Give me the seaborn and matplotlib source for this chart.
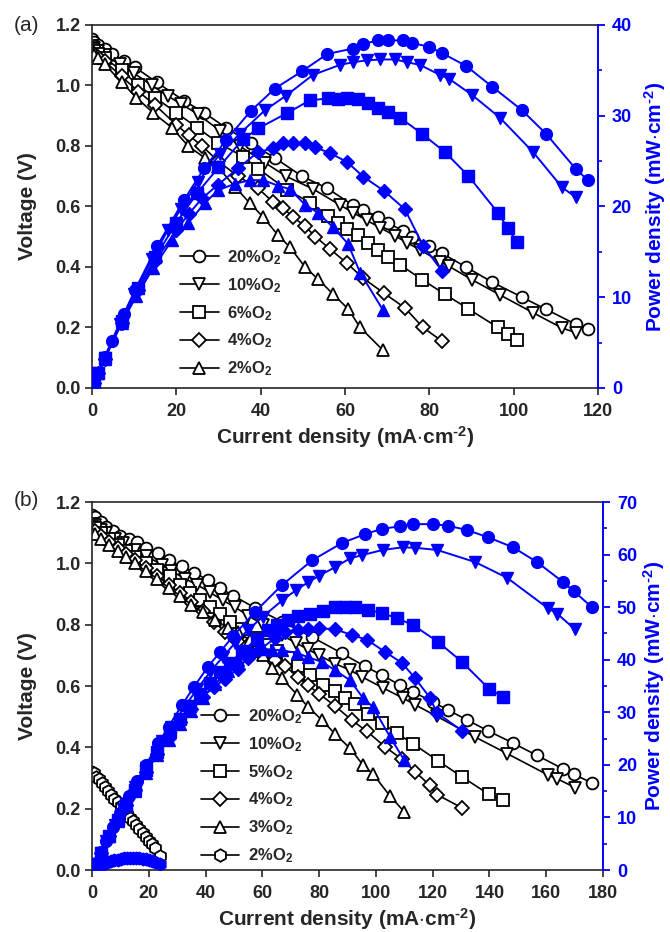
import matplotlib
matplotlib.use('Agg')
import matplotlib.pyplot as plt
import seaborn as sns
from matplotlib.lines import Line2D
from matplotlib.ticker import MultipleLocator

# ---- panel (a): current (mA/cm2), voltage (V), power (mW/cm2)
a20_i = [0, 0.5, 1.5, 3.0, 4.7, 7.5, 10.2, 15.4, 21.8, 26.6, 31.8, 37.6, 43.4, 49.8, 55.8, 61.8, 64.3, 67.8, 70.3, 73.7, 76.0, 80.0, 83.0, 88.7, 94.9, 102.0, 107.7, 114.8, 117.6]
a20_v = [1.153, 1.145, 1.135, 1.12, 1.105, 1.08, 1.06, 1.01, 0.95, 0.91, 0.86, 0.81, 0.76, 0.70, 0.66, 0.605, 0.59, 0.565, 0.545, 0.52, 0.50, 0.47, 0.445, 0.40, 0.35, 0.30, 0.26, 0.21, 0.195]
a20_p = [0, 0.6, 1.7, 3.4, 5.2, 8.1, 10.8, 15.6, 20.7, 24.2, 27.3, 30.5, 33.0, 34.9, 36.8, 37.4, 37.9, 38.3, 38.3, 38.3, 38.0, 37.6, 36.9, 35.5, 33.2, 30.6, 28.0, 24.1, 22.9]

a10_i = [0, 0.5, 1.5, 3.0, 6.6, 10.0, 14.2, 18.0, 21.0, 25.1, 30.4, 35.0, 41.0, 46.0, 52.4, 58.8, 62.0, 65.2, 68.3, 71.9, 74.7, 77.8, 82.5, 84.6, 90.1, 96.7, 104.6, 111.5, 114.8]
a10_v = [1.13, 1.125, 1.115, 1.10, 1.07, 1.04, 1.0, 0.965, 0.94, 0.905, 0.85, 0.80, 0.745, 0.70, 0.658, 0.605, 0.579, 0.554, 0.53, 0.503, 0.48, 0.457, 0.418, 0.403, 0.358, 0.308, 0.249, 0.198, 0.183]
a10_p = [0, 0.6, 1.7, 3.3, 7.1, 10.4, 14.2, 17.4, 19.7, 22.7, 25.8, 28.0, 30.6, 32.2, 34.5, 35.6, 35.9, 36.1, 36.2, 36.2, 35.9, 35.6, 34.5, 34.1, 32.3, 29.8, 26.0, 22.1, 21.0]

a6_i = [0, 0.5, 1.5, 3.0, 7.0, 11.0, 15.0, 20.0, 25.0, 30.0, 35.8, 39.4, 46.3, 51.7, 56.0, 58.3, 60.5, 63.0, 65.5, 67.8, 70.2, 73.0, 78.3, 83.7, 89.2, 96.3, 98.6, 100.8]
a6_v = [1.12, 1.115, 1.105, 1.09, 1.05, 1.0, 0.96, 0.91, 0.86, 0.81, 0.765, 0.725, 0.655, 0.613, 0.57, 0.545, 0.527, 0.505, 0.48, 0.456, 0.433, 0.408, 0.358, 0.31, 0.262, 0.20, 0.178, 0.16]
a6_p = [0, 0.6, 1.7, 3.3, 7.4, 11.0, 14.4, 18.2, 21.5, 24.3, 27.4, 28.6, 30.3, 31.7, 31.9, 31.8, 31.9, 31.8, 31.4, 30.9, 30.4, 29.8, 28.0, 26.0, 23.4, 19.3, 17.6, 16.1]

a4_i = [0, 0.5, 1.5, 3.0, 7.0, 11.0, 15.0, 20.0, 23.0, 26.1, 29.9, 34.6, 39.4, 42.9, 45.3, 47.7, 50.5, 53.0, 56.4, 60.5, 64.3, 69.3, 74.2, 78.5, 83.0]
a4_v = [1.11, 1.105, 1.095, 1.08, 1.03, 0.98, 0.935, 0.87, 0.835, 0.80, 0.75, 0.70, 0.66, 0.615, 0.595, 0.565, 0.535, 0.50, 0.46, 0.412, 0.363, 0.313, 0.265, 0.20, 0.155]
a4_p = [0, 0.6, 1.6, 3.2, 7.2, 10.8, 14.0, 17.4, 19.2, 20.9, 22.4, 24.2, 26.0, 26.4, 27.0, 27.0, 27.0, 26.5, 25.9, 24.9, 23.3, 21.7, 19.7, 15.7, 12.9]

a2_i = [0, 0.5, 1.5, 3.0, 7.1, 10.5, 14.5, 19.0, 22.8, 26.8, 29.9, 33.9, 37.5, 40.6, 44.1, 47.0, 50.5, 53.6, 57.2, 60.7, 63.6, 69.0]
a2_v = [1.107, 1.10, 1.09, 1.07, 1.01, 0.96, 0.91, 0.86, 0.80, 0.76, 0.73, 0.665, 0.61, 0.565, 0.505, 0.465, 0.40, 0.36, 0.31, 0.262, 0.20, 0.125]
a2_p = [0, 0.6, 1.6, 3.2, 7.2, 10.1, 13.2, 16.3, 18.2, 20.4, 21.8, 22.5, 22.9, 22.9, 22.3, 21.9, 20.2, 19.3, 17.7, 15.9, 12.7, 8.6]

# ---- panel (b)
b20_i = [0, 1.0, 3.0, 5.0, 7.4, 10.0, 13.0, 15.8, 19.0, 23.3, 27.0, 31.7, 36.0, 40.9, 45.0, 49.7, 57.4, 66.9, 77.5, 88.0, 96.2, 102.1, 108.5, 113.0, 120.0, 125.4, 132.0, 139.5, 148.3, 156.7, 165.9, 169.8, 176.1]
b20_v = [1.157, 1.15, 1.135, 1.12, 1.105, 1.09, 1.08, 1.07, 1.05, 1.033, 1.01, 0.99, 0.97, 0.945, 0.92, 0.895, 0.855, 0.81, 0.76, 0.707, 0.664, 0.636, 0.603, 0.582, 0.548, 0.522, 0.49, 0.454, 0.414, 0.374, 0.33, 0.312, 0.284]
b20_p = [0, 1.2, 3.4, 5.6, 8.2, 10.9, 14.0, 16.9, 20.0, 24.1, 27.3, 31.4, 34.9, 38.7, 41.4, 44.5, 49.1, 54.2, 58.9, 62.2, 63.9, 64.9, 65.4, 65.8, 65.8, 65.5, 64.7, 63.3, 61.4, 58.6, 54.8, 53.0, 50.0]

b10_i = [0, 1.0, 3.0, 5.0, 8.0, 11.0, 15.0, 19.0, 24.6, 28.0, 32.8, 37.0, 41.5, 46.0, 50.4, 55.0, 60.2, 67.0, 72.0, 76.0, 80.0, 85.6, 90.9, 95.1, 102.5, 109.5, 113.8, 121.5, 134.9, 146.2, 160.6, 163.8, 170.1]
b10_v = [1.13, 1.125, 1.11, 1.10, 1.08, 1.065, 1.045, 1.025, 0.995, 0.975, 0.95, 0.93, 0.906, 0.88, 0.857, 0.83, 0.80, 0.765, 0.74, 0.72, 0.70, 0.673, 0.652, 0.63, 0.594, 0.561, 0.539, 0.501, 0.434, 0.38, 0.31, 0.298, 0.269]
b10_p = [0, 1.1, 3.3, 5.5, 8.6, 11.7, 15.7, 19.5, 24.5, 27.3, 31.2, 34.4, 37.6, 40.5, 43.2, 45.7, 48.2, 51.3, 53.3, 54.7, 56.0, 57.6, 59.3, 59.9, 60.9, 61.4, 61.3, 60.9, 58.6, 55.6, 49.8, 48.8, 45.8]

b5_i = [0, 1.0, 3.0, 6.0, 9.0, 12.0, 15.0, 19.0, 23.0, 27.5, 31.0, 34.5, 38.0, 41.5, 45.0, 48.6, 53.0, 58.1, 62.0, 65.2, 69.0, 72.6, 76.8, 81.4, 85.6, 89.1, 92.6, 97.2, 102.1, 107.4, 113.1, 121.9, 130.3, 139.8, 144.8]
b5_v = [1.12, 1.115, 1.10, 1.08, 1.06, 1.04, 1.02, 1.0, 0.98, 0.96, 0.93, 0.903, 0.88, 0.858, 0.835, 0.81, 0.785, 0.758, 0.735, 0.715, 0.69, 0.665, 0.635, 0.605, 0.584, 0.561, 0.54, 0.509, 0.479, 0.446, 0.412, 0.356, 0.304, 0.247, 0.227]
b5_p = [0, 1.1, 3.3, 6.5, 9.5, 12.5, 15.3, 19.0, 22.5, 26.4, 28.8, 31.2, 33.4, 35.6, 37.6, 39.4, 41.6, 44.0, 45.6, 46.6, 47.6, 48.3, 48.8, 49.3, 50.0, 50.0, 50.0, 49.5, 48.9, 47.9, 46.6, 43.4, 39.6, 34.5, 32.9]

b4_i = [0, 1.0, 3.0, 6.0, 9.0, 12.0, 15.0, 19.0, 23.0, 27.0, 31.0, 35.0, 39.0, 43.0, 47.0, 51.4, 55.0, 59.0, 64.5, 68.0, 72.6, 76.0, 80.0, 85.6, 91.6, 96.9, 103.2, 109.2, 113.8, 119.0, 121.5, 130.3]
b4_v = [1.11, 1.105, 1.09, 1.07, 1.05, 1.03, 1.01, 0.985, 0.96, 0.93, 0.905, 0.875, 0.845, 0.81, 0.775, 0.745, 0.735, 0.71, 0.684, 0.666, 0.628, 0.603, 0.575, 0.535, 0.488, 0.452, 0.402, 0.361, 0.321, 0.276, 0.246, 0.203]
b4_p = [0, 1.1, 3.3, 6.4, 9.5, 12.4, 15.2, 18.7, 22.1, 25.1, 28.1, 30.6, 33.0, 34.8, 36.4, 38.3, 40.4, 41.9, 44.1, 45.3, 45.6, 45.8, 46.0, 45.8, 44.7, 43.8, 41.5, 39.4, 36.5, 32.8, 29.9, 26.5]

b3_i = [0, 1.0, 3.0, 6.0, 9.0, 12.0, 15.0, 19.0, 23.0, 27.0, 31.0, 35.0, 39.0, 43.3, 48.0, 51.5, 55.6, 60.2, 63.5, 66.9, 72.2, 76.0, 81.0, 85.6, 90.9, 95.5, 99.0, 105.0, 110.0]
b3_v = [1.10, 1.095, 1.08, 1.06, 1.04, 1.02, 1.0, 0.975, 0.95, 0.92, 0.895, 0.865, 0.84, 0.815, 0.79, 0.775, 0.75, 0.70, 0.66, 0.625, 0.572, 0.533, 0.489, 0.444, 0.397, 0.342, 0.313, 0.241, 0.19]
b3_p = [0, 1.1, 3.2, 6.4, 9.4, 12.2, 15.0, 18.5, 21.9, 24.8, 27.8, 30.3, 32.8, 35.3, 37.9, 39.9, 41.7, 42.1, 41.9, 41.8, 41.3, 40.5, 39.6, 38.0, 36.1, 32.7, 31.0, 25.3, 20.9]

b2_i = [0, 0.6, 1.5, 2.5, 3.6, 4.6, 5.7, 6.8, 7.9, 9.0, 10.1, 11.2, 12.3, 13.4, 14.5, 15.6, 16.7, 17.8, 18.9, 20.0, 21.1, 22.2, 24.0]
b2_v = [0.32, 0.315, 0.305, 0.296, 0.283, 0.271, 0.258, 0.246, 0.233, 0.221, 0.208, 0.196, 0.184, 0.171, 0.159, 0.146, 0.134, 0.121, 0.109, 0.096, 0.084, 0.071, 0.045]
b2_p = [0, 0.19, 0.46, 0.74, 1.02, 1.25, 1.47, 1.67, 1.84, 1.99, 2.10, 2.20, 2.26, 2.29, 2.31, 2.28, 2.24, 2.15, 2.06, 1.92, 1.77, 1.58, 1.08]

labels_a = ['20%O$_2$', '10%O$_2$', '6%O$_2$', '4%O$_2$', '2%O$_2$']
labels_b = ['20%O$_2$', '10%O$_2$', '5%O$_2$', '4%O$_2$', '3%O$_2$', '2%O$_2$']

sns.set_style("ticks")
plt.rcParams['font.family'] = ['Liberation Sans', 'DejaVu Sans']
plt.rcParams['mathtext.fontset'] = 'custom'
plt.rcParams['mathtext.rm'] = 'Liberation Sans:bold'
plt.rcParams['mathtext.bf'] = 'Liberation Sans:bold'
plt.rcParams['mathtext.it'] = 'Liberation Sans:bold'
plt.rcParams['mathtext.default'] = 'rm'

MS = {'o': 8.5, 'v': 9, 's': 8, 'D': 7, '^': 9, 'h': 9}


def draw_panel(ax, series, xmax, pmax, pstep, leg_xy, plabelpad):
    ax2 = ax.twinx()
    handles = []
    for cur, volt, power, name, mk in series:
        ms = MS[mk]
        sns.lineplot(x=cur, y=volt, ax=ax, color='black', marker=mk, markersize=ms,
                     markerfacecolor='white', markeredgecolor='black', markeredgewidth=1.3,
                     linewidth=1.2, estimator=None, sort=False, legend=False)
        sns.lineplot(x=cur, y=power, ax=ax2, color='blue', marker=mk, markersize=ms,
                     markerfacecolor='blue', markeredgecolor='blue', markeredgewidth=1,
                     linewidth=1.4, estimator=None, sort=False, legend=False)
        handles.append(Line2D([], [], color='black', marker=mk, markersize=ms,
                              markerfacecolor='white', markeredgecolor='black',
                              markeredgewidth=1.3, linewidth=1.2, label=name))
    ax.set_xlim(0, xmax)
    ax.set_ylim(0, 1.2)
    ax2.set_ylim(0, pmax)
    ax.xaxis.set_major_locator(MultipleLocator(20))
    ax.yaxis.set_major_locator(MultipleLocator(0.2))
    ax.yaxis.set_major_formatter(plt.FormatStrFormatter('%.1f'))
    ax2.yaxis.set_major_locator(MultipleLocator(pstep))
    ax2.yaxis.set_minor_locator(MultipleLocator(pstep / 2))
    for s in ['left', 'bottom', 'top']:
        ax.spines[s].set_linewidth(1.2)
    ax.spines['right'].set_visible(False)
    for s in ['left', 'bottom', 'top']:
        ax2.spines[s].set_visible(False)
    ax2.spines['right'].set_color('blue')
    ax2.spines['right'].set_linewidth(1.4)
    ax.tick_params(axis='x', direction='out', length=5, width=1.2, labelsize=13, pad=6)
    ax.tick_params(axis='y', direction='out', length=5, width=1.2, labelsize=13, pad=3)
    ax2.tick_params(axis='y', which='major', direction='out', length=5, width=1.3,
                    colors='blue', labelsize=13, pad=5)
    ax2.tick_params(axis='y', which='minor', direction='out', length=3, width=1.2, colors='blue')
    for t in ax.get_xticklabels() + ax.get_yticklabels():
        t.set_fontweight('bold')
    for t in ax2.get_yticklabels():
        t.set_fontweight('bold')
    ax.set_xlabel(r'Current density (mA$\cdot$cm$^{\text{-2}}$)', fontsize=15, fontweight='bold', labelpad=3)
    ax.set_ylabel('Voltage (V)', fontsize=15, fontweight='bold', labelpad=13)
    ax2.set_ylabel(r'Power density (mW$\cdot$cm$^{\text{-2}}$)', fontsize=15, fontweight='bold',
                   color='blue', labelpad=plabelpad)
    leg = ax.legend(handles=handles, loc='upper left', bbox_to_anchor=leg_xy, frameon=False,
                    fontsize=12, handlelength=2.3, handletextpad=0.5, labelspacing=0.55,
                    borderpad=0.3)
    for t in leg.get_texts():
        t.set_fontweight('bold')
    ax.set_zorder(ax2.get_zorder() - 1)
    ax.patch.set_visible(False)
    return ax2


fig = plt.figure(figsize=(6.7, 9.32), dpi=100)
ax_a = fig.add_axes([0.1373, 0.5837, 0.7552, 0.3895])
ax_b = fig.add_axes([0.1373, 0.0665, 0.7627, 0.3948])

series_a = [(a20_i, a20_v, a20_p, labels_a[0], 'o'),
            (a10_i, a10_v, a10_p, labels_a[1], 'v'),
            (a6_i, a6_v, a6_p, labels_a[2], 's'),
            (a4_i, a4_v, a4_p, labels_a[3], 'D'),
            (a2_i, a2_v, a2_p, labels_a[4], '^')]
series_b = [(b20_i, b20_v, b20_p, labels_b[0], 'o'),
            (b10_i, b10_v, b10_p, labels_b[1], 'v'),
            (b5_i, b5_v, b5_p, labels_b[2], 's'),
            (b4_i, b4_v, b4_p, labels_b[3], 'D'),
            (b3_i, b3_v, b3_p, labels_b[4], '^'),
            (b2_i, b2_v, b2_p, labels_b[5], 'h')]

draw_panel(ax_a, series_a, 120, 40, 10, (0.148, 0.422), 7)
draw_panel(ax_b, series_b, 180, 70, 10, (0.187, 0.479), 3)

fig.text(0.021, 0.973, '(a)', fontsize=15, va='center', ha='left')
fig.text(0.021, 0.463, '(b)', fontsize=15, va='center', ha='left')

fig.savefig('out.png', dpi=100)
